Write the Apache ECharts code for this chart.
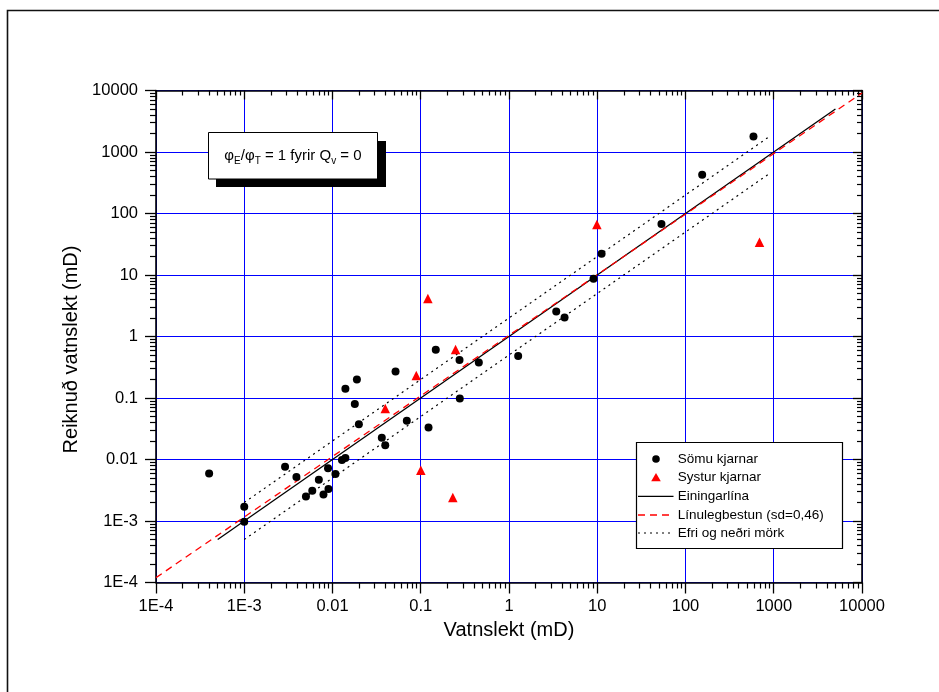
<!DOCTYPE html>
<html><head><meta charset="utf-8">
<script src="https://cdn.jsdelivr.net/npm/echarts@6/dist/echarts.min.js"></script>
<style>html,body{margin:0;padding:0;background:#fff}#c{width:939px;height:692px}</style>
</head><body><div id="c"></div>
<script>
// ---- data ----
const majorTicks = [1e-4, 1e-3, 0.01, 0.1, 1, 10, 100, 1000, 10000];
const majorLabels = ['1E-4', '1E-3', '0.01', '0.1', '1', '10', '100', '1000', '10000'];

const circlesX = [0.0004, 0.001, 0.001, 0.0029, 0.0039, 0.0050, 0.0059, 0.0070, 0.0079, 0.0089, 0.0090, 0.0108, 0.0128, 0.0140, 0.0140, 0.0189, 0.0179, 0.0199, 0.0518, 0.0362, 0.0396, 0.0695, 0.1225, 0.148, 0.275, 0.455, 0.277, 1.27, 3.43, 4.26, 9.07, 11.2, 53.4, 154.5, 589];
const circlesY = [0.0059, 0.0017, 0.00097, 0.0076, 0.0052, 0.0025, 0.0031, 0.0047, 0.0027, 0.0072, 0.0033, 0.0058, 0.0098, 0.0106, 0.141, 0.200, 0.080, 0.0375, 0.269, 0.0225, 0.0171, 0.0425, 0.0332, 0.61, 0.416, 0.377, 0.098, 0.483, 2.54, 2.03, 8.73, 22.2, 67.3, 427, 1790];

const trianglesX = [0.0396, 0.089, 0.1205, 0.1002, 0.231, 0.248, 9.9, 689];
const trianglesY = [0.0675, 0.232, 4.13, 0.0067, 0.00242, 0.614, 66.5, 34];

const unityX = [5e-4, 5000];
const unityY = [5e-4, 5000];
const fitX = [1e-4, 1e4];
const fitY = [1.2e-4, 9100];
const upperX = [1e-3, 870];
const upperY = [2e-3, 1740];
const lowerX = [1e-3, 870];
const lowerY = [5e-4, 435];

const seriesNames = ['Sömu kjarnar', 'Systur kjarnar', 'Einingarlína', 'Línulegbestun (sd=0,46)', 'Efri og neðri mörk'];
const xTitle = 'Vatnslekt (mD)';
const yTitle = 'Reiknuð vatnslekt (mD)';

// ---- helpers ----
const FONT = '"Liberation Sans", Arial, sans-serif';
const zip = (a, b) => a.map((v, i) => [v, b[i]]);
const minorTicks = [];
for (let d = -4; d < 4; d++) for (let m = 2; m <= 9; m++) minorTicks.push(+(m * Math.pow(10, d)).toPrecision(6));
const fmt = v => {
  const i = majorTicks.findIndex(t => Math.abs(Math.log10(t) - Math.log10(v)) < 1e-6);
  return i >= 0 ? majorLabels[i] : '';
};

function axis(pos, kind, isX) {
  const a = {
    type: 'log', logBase: 10, min: 1e-4, max: 1e4, splitNumber: 8,
    position: pos, gridIndex: 0,
    axisLine: { show: kind === 'major', onZero: false, lineStyle: { color: '#000', width: 1.6 } },
    axisLabel: { show: false },
    splitLine: { show: false },
    minorTick: { show: false },
    axisTick: { show: true, alignWithLabel: false }
  };
  const outward = (pos === 'bottom' || pos === 'left');
  if (kind === 'major') {
    a.axisTick = { show: true, inside: !outward, length: outward ? 11 : 9, customValues: majorTicks, lineStyle: { color: '#000', width: 1.3 } };
  } else {
    a.axisTick = { show: true, inside: !outward, length: outward ? 6 : 5, customValues: minorTicks, lineStyle: { color: '#000', width: 1.2 } };
  }
  if (kind === 'major' && outward) {
    a.axisLabel = { show: true, customValues: majorTicks, formatter: fmt, color: '#000', fontSize: 16.5, fontFamily: FONT, margin: isX ? 15 : 18, hideOverlap: false };
    a.splitLine = { show: true, lineStyle: { color: '#0000ff', width: 1 } };
    a.name = isX ? xTitle : yTitle;
    a.nameLocation = 'middle';
    a.nameGap = isX ? 38 : 74;
    a.nameTextStyle = isX
      ? { color: '#000', fontSize: 20, fontFamily: FONT }
      : { color: '#000', fontSize: 20, fontFamily: FONT, padding: [0, 26, 0, 0] };
  }
  return a;
}

const chart = echarts.init(document.getElementById('c'), null, { renderer: 'canvas' });

const legY = [459, 477.7, 496.3, 515, 533];
const legendGraphic = [
  { type: 'rect', shape: { x: 636.5, y: 442.5, width: 206, height: 106 }, style: { fill: '#fff', stroke: '#000', lineWidth: 1.2 } },
  { type: 'circle', shape: { cx: 656, cy: legY[0], r: 3.8 }, style: { fill: '#000' } },
  { type: 'polygon', shape: { points: [[656, legY[1] - 4.8], [651.2, legY[1] + 3.6], [660.8, legY[1] + 3.6]] }, style: { fill: '#ff0000' } },
  { type: 'line', shape: { x1: 638, y1: legY[2], x2: 673.5, y2: legY[2] }, style: { stroke: '#000', lineWidth: 1.3 } },
  { type: 'line', shape: { x1: 638, y1: legY[3], x2: 673.5, y2: legY[3] }, style: { stroke: '#ff0000', lineWidth: 1.3, lineDash: [7, 5] } },
  { type: 'line', shape: { x1: 638, y1: legY[4], x2: 673.5, y2: legY[4] }, style: { stroke: '#000', lineWidth: 1.2, lineDash: [2, 4] } }
].concat(seriesNames.map((n, i) => ({
  type: 'text', x: 677.7, y: legY[i],
  style: { text: n, fill: '#000', fontSize: 13.5, fontFamily: FONT, textVerticalAlign: 'middle', verticalAlign: 'middle' }
})));

const option = {
  animation: false,
  backgroundColor: '#fff',
  grid: { left: 156, top: 90.5, width: 706, height: 492, containLabel: false },
  xAxis: [axis('bottom', 'major', true), axis('bottom', 'minor', true), axis('top', 'major', true), axis('top', 'minor', true)],
  yAxis: [axis('left', 'major', false), axis('left', 'minor', false), axis('right', 'major', false), axis('right', 'minor', false)],
  series: [
    { name: seriesNames[2], type: 'line', data: zip(unityX, unityY), symbol: 'none', lineStyle: { color: '#000', width: 1.3 }, z: 3 },
    { name: seriesNames[3], type: 'line', data: zip(fitX, fitY), symbol: 'none', lineStyle: { color: '#ff0000', width: 1.3, type: [7, 5] }, z: 4 },
    { name: seriesNames[4], type: 'line', data: zip(upperX, upperY), symbol: 'none', lineStyle: { color: '#000', width: 1.2, type: [2, 4] }, z: 3 },
    { name: seriesNames[4], type: 'line', data: zip(lowerX, lowerY), symbol: 'none', lineStyle: { color: '#000', width: 1.2, type: [2, 4] }, z: 3 },
    { name: seriesNames[0], type: 'scatter', data: zip(circlesX, circlesY), symbol: 'circle', symbolSize: 8, itemStyle: { color: '#000', opacity: 1 }, z: 5 },
    { name: seriesNames[1], type: 'scatter', data: zip(trianglesX, trianglesY), symbol: 'triangle', symbolSize: 9.5, itemStyle: { color: '#ff0000', opacity: 1 }, z: 5 }
  ],
  graphic: [
    { type: 'rect', z: 100, shape: { x: 7.5, y: 10.5, width: 960, height: 720 }, style: { fill: 'none', stroke: '#111', lineWidth: 1.6 } },
    { type: 'rect', z: 100, shape: { x: 216, y: 141, width: 170, height: 46 }, style: { fill: '#000' } },
    { type: 'rect', z: 101, shape: { x: 208.5, y: 132.5, width: 169, height: 46.5 }, style: { fill: '#fff', stroke: '#000', lineWidth: 1 } },
    { type: 'text', z: 102, x: 293, y: 156,
      style: {
        text: '{a|φ}{s|E}{a|/φ}{s|T}{a| = 1 fyrir Q}{s|v}{a| = 0}',
        align: 'center', verticalAlign: 'middle',
        rich: {
          a: { fontSize: 15, fontFamily: FONT, fill: '#000', lineHeight: 20 },
          s: { fontSize: 10, fontFamily: FONT, fill: '#000', lineHeight: 10, verticalAlign: 'bottom' }
        }
      }
    },
    { type: 'group', z: 100, children: legendGraphic.map(g => Object.assign({ z: 100 }, g)) }
  ]
};
chart.setOption(option);
</script>
</body></html>
